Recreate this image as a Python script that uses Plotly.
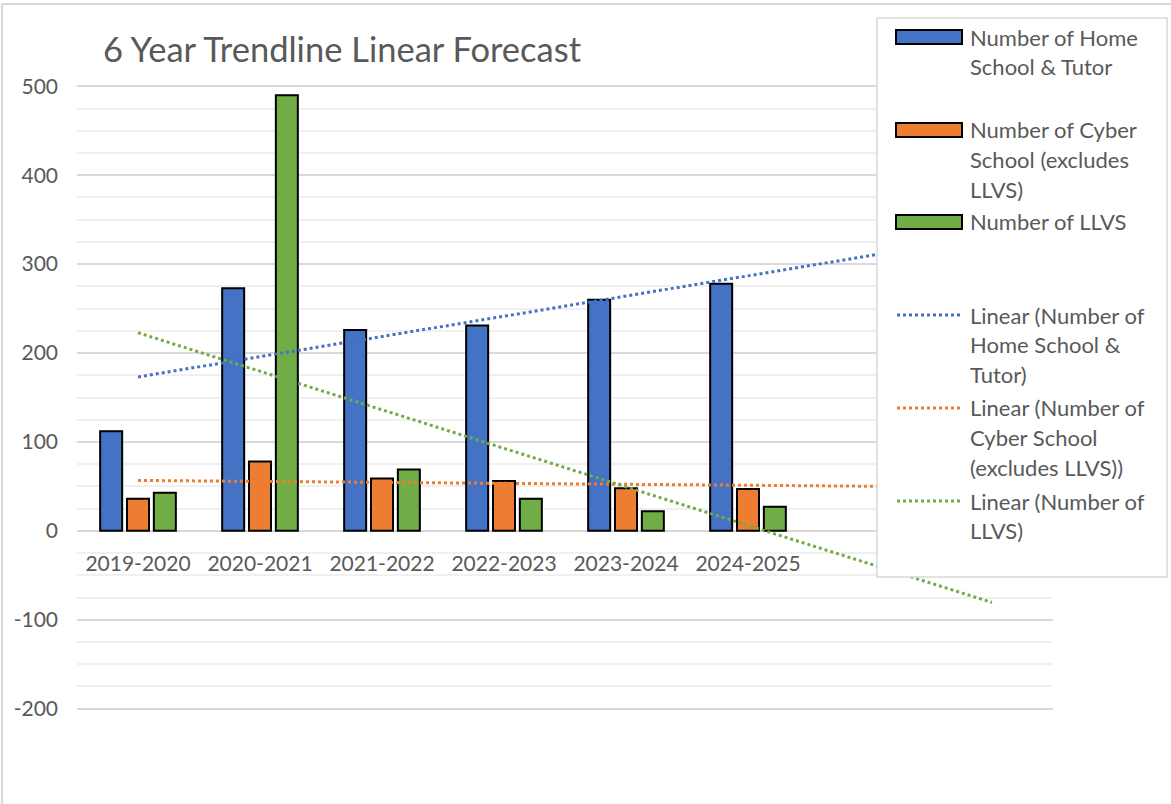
import numpy as np
import plotly.graph_objects as go

# ---- data ----
years = ["2019-2020", "2020-2021", "2021-2022", "2022-2023", "2023-2024", "2024-2025"]
home_tutor = [112, 273, 226, 231, 260, 278]
cyber = [36, 78, 59, 56, 48, 47]
llvs = [43, 490, 69, 36, 22, 27]
series_names = ["Number of Home School & Tutor",
                "Number of Cyber School (excludes LLVS)",
                "Number of LLVS"]
forecast_periods = 2
y_ticks = [-200, -100, 0, 100, 200, 300, 400, 500]
y_ticktext = ["-200", "-100", "0", "100", "200", "300", "400", "500"]

colors = ["#4472C4", "#ED7D31", "#70AD47"]
series = [home_tutor, cyber, llvs]

W, H = 1171, 804
L, R, T, B = 77, 118, 85, 94
YMIN, YMAX = -200, 500
PAD = 1.5
pw, ph = W - L - R, H - T - B


def px(xp):
    return (xp - L) / pw


def py(yp):
    return (H - B - yp) / ph


xs = np.arange(1, len(years) + 1)
fig = go.Figure()
for name, vals, c in zip(series_names, series, colors):
    fig.add_trace(go.Bar(x=xs, y=vals, name=name, marker=dict(color=c, line=dict(color="black", width=2)),
                         showlegend=False))

# linear trendlines (least squares fit of each series), forecast forward
xt = np.array([1, len(years) + forecast_periods])
for name, vals, c in zip(series_names, series, colors):
    m, b = np.polyfit(xs, vals, 1)
    fig.add_trace(go.Scatter(x=xt, y=m * xt + b, mode="lines", name="Linear (" + name + ")",
                             line=dict(color=c, width=3, dash="dot"), showlegend=False))

FONT = "Lato"
GREY = "#595959"
shapes = []
annotations = []

# outer chart border (top / left)
shapes.append(dict(type="line", xref="paper", yref="paper", x0=px(2), x1=px(1200), y0=py(4), y1=py(4),
                   line=dict(color="#d9d9d9", width=2)))
shapes.append(dict(type="line", xref="paper", yref="paper", x0=px(2), x1=px(2), y0=py(4), y1=py(900),
                   line=dict(color="#d9d9d9", width=2)))

# legend box
shapes.append(dict(type="rect", xref="paper", yref="paper", x0=px(877), x1=px(1167), y0=py(577), y1=py(18),
                   fillcolor="white", line=dict(color="#d9d9d9", width=1.5), layer="above"))

legend_items = [
    ("bar", colors[0], ["Number of Home", "School & Tutor"], 37),
    ("bar", colors[1], ["Number of Cyber", "School (excludes", "LLVS)"], 130),
    ("bar", colors[2], ["Number of LLVS"], 222),
    ("line", colors[0], ["Linear (Number of", "Home School &", "Tutor)"], 315),
    ("line", colors[1], ["Linear (Number of", "Cyber School", "(excludes LLVS))"], 408),
    ("line", colors[2], ["Linear (Number of", "LLVS)"], 501),
]
LINE_H = 29.5
for kind, c, lines, y0 in legend_items:
    if kind == "bar":
        shapes.append(dict(type="rect", xref="paper", yref="paper", x0=px(896), x1=px(962),
                           y0=py(y0 + 7), y1=py(y0 - 7), fillcolor=c,
                           line=dict(color="black", width=2), layer="above"))
    else:
        shapes.append(dict(type="line", xref="paper", yref="paper", x0=px(897), x1=px(960),
                           y0=py(y0), y1=py(y0), line=dict(color=c, width=3, dash="dot"), layer="above"))
    for i, t in enumerate(lines):
        annotations.append(dict(xref="paper", yref="paper", x=px(968), y=py(y0 + i * LINE_H),
                                xanchor="left", yanchor="middle", text=t, showarrow=False,
                                font=dict(family=FONT, size=22, color=GREY)))

# title
annotations.append(dict(xref="paper", yref="paper", x=px(101), y=py(49), xanchor="left", yanchor="middle",
                        text="6 Year Trendline Linear Forecast", showarrow=False,
                        font=dict(family=FONT, size=34.5, color=GREY)))

fig.update_layout(
    width=W, height=H, autosize=False,
    margin=dict(l=L, r=R, t=T, b=B),
    paper_bgcolor="white", plot_bgcolor="white",
    barmode="group", bargap=0.34, bargroupgap=0.18,
    showlegend=False,
    shapes=shapes, annotations=annotations,
    xaxis=dict(range=[0.5, len(years) + forecast_periods + 0.5], tickvals=list(xs), ticktext=years,
               showgrid=False, zeroline=False, showline=False, ticks="",
               anchor="free", position=(0 - YMIN) / (YMAX - YMIN), ticklabelstandoff=18,
               tickfont=dict(family=FONT, size=21, color=GREY)),
    yaxis=dict(range=[YMIN - PAD, YMAX + PAD], tickvals=y_ticks, ticktext=y_ticktext,
               showgrid=True, gridcolor="#d9d9d9",
               gridwidth=2, zeroline=True, zerolinecolor="#d9d9d9", zerolinewidth=2, showline=False,
               ticks="", ticklabelstandoff=18,
               tickfont=dict(family=FONT, size=21, color=GREY),
               minor=dict(dtick=25, tick0=0, showgrid=True, gridcolor="#f0f0f0", gridwidth=2)),
)

fig.write_html("out.html", config={"displayModeBar": False},
               post_script="document.body.style.margin='0';")
